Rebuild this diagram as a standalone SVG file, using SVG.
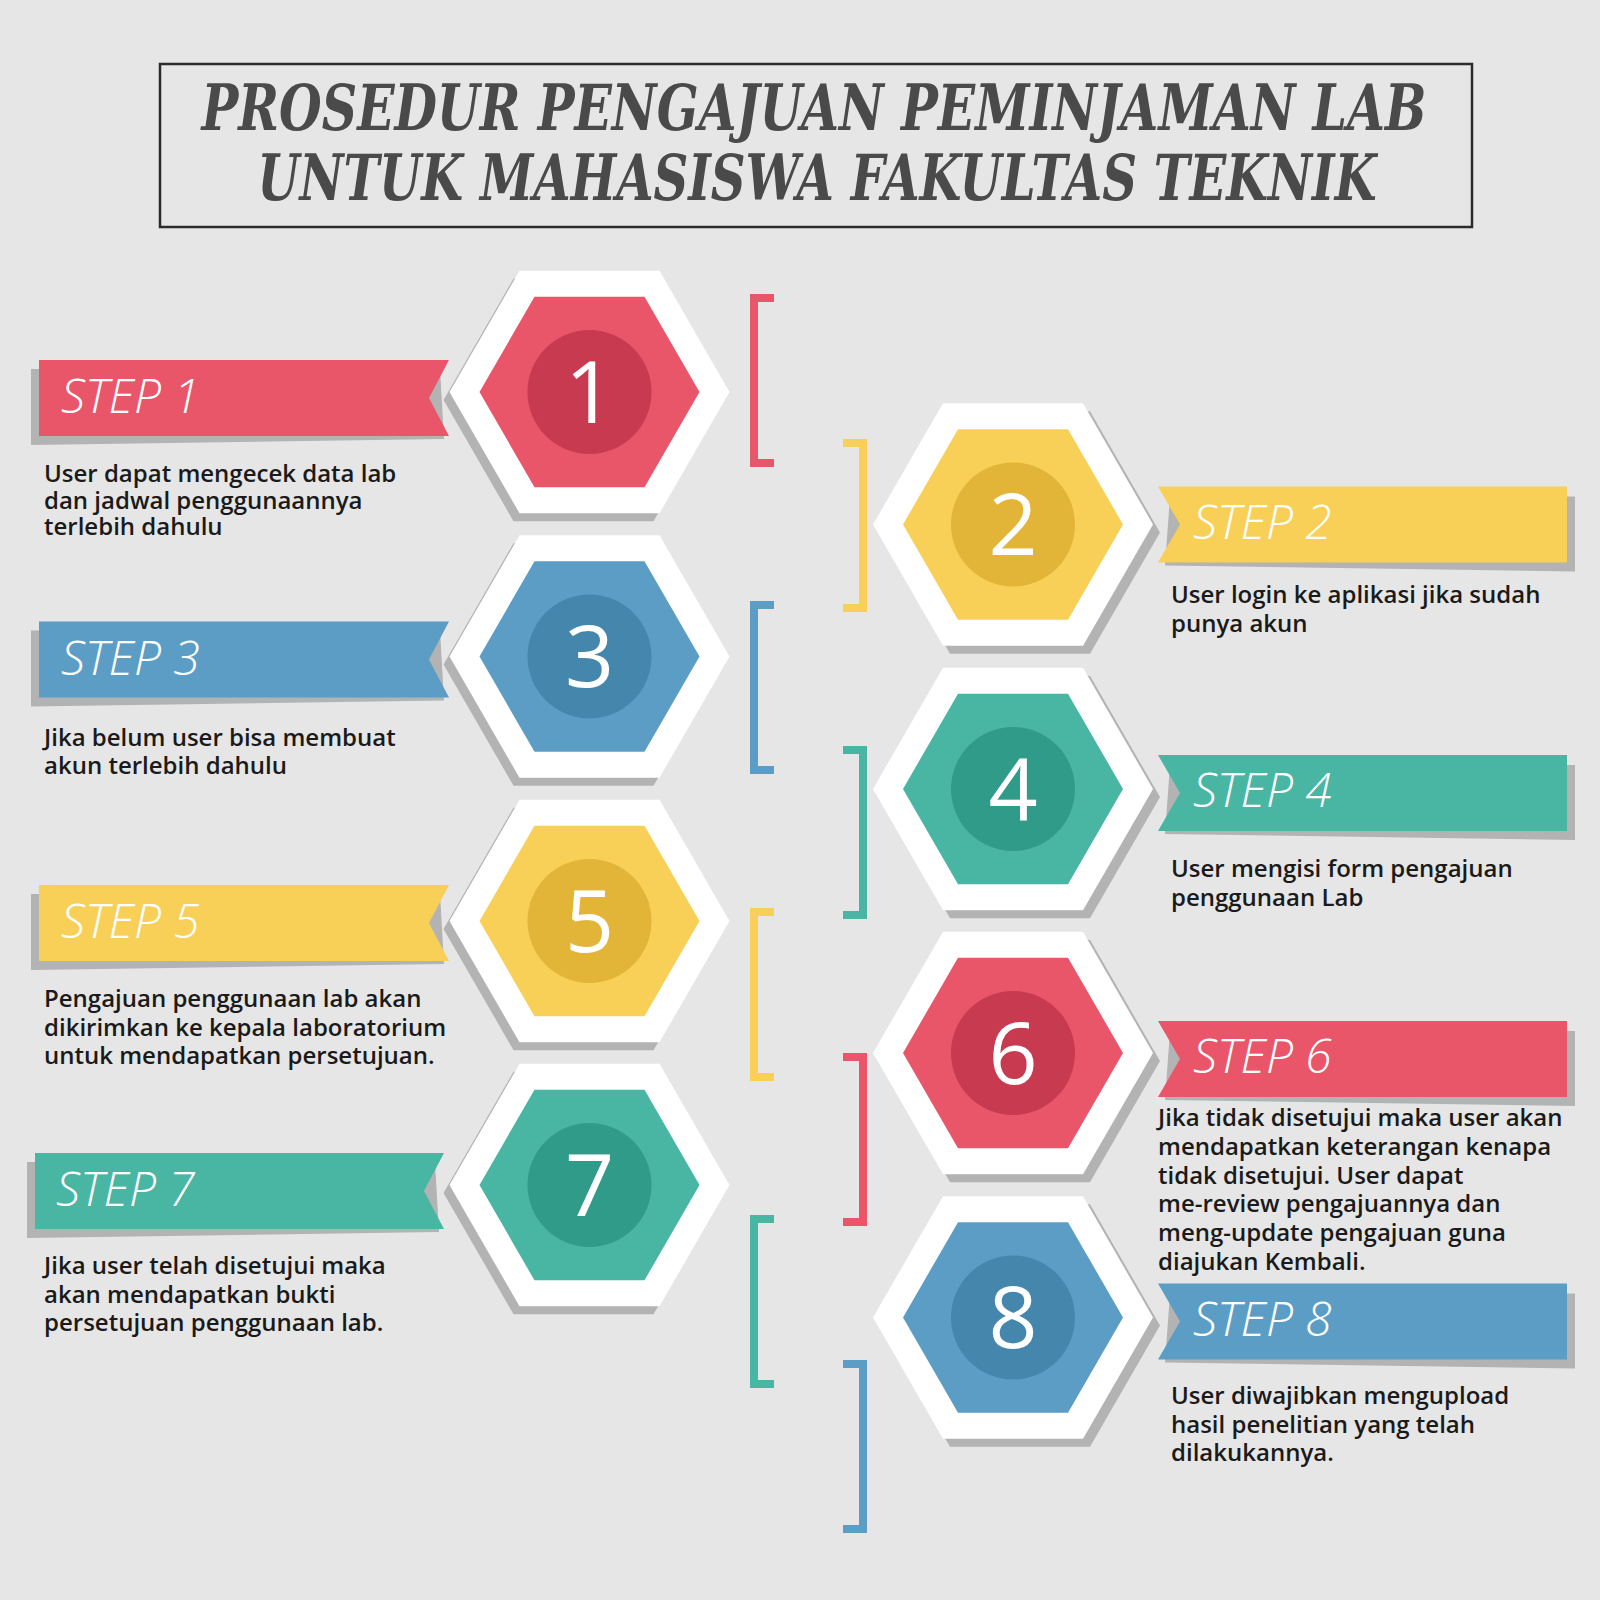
<svg xmlns="http://www.w3.org/2000/svg" xmlns:xlink="http://www.w3.org/1999/xlink" width="1600" height="1600" viewBox="0 0 1600 1600">
<style>
.bg{fill:#E6E6E6}
.title{font-family:"DejaVu Serif","Liberation Serif",serif;font-weight:bold;font-style:italic;font-size:64px;fill:#4A4A4A;text-anchor:middle}
.shadow{fill:#B3B3B3}
.white{fill:#FFFFFF}
.red{fill:#E95569}.redD{fill:#C73A4F}
.yel{fill:#F8D057}.yelD{fill:#E2B437}
.blu{fill:#5C9DC6}.bluD{fill:#4586AC}
.tea{fill:#49B5A3}.teaD{fill:#309B88}
.num{font-family:"Open Sans","Noto Sans",sans-serif;font-size:86px;fill:#FFFFFF;text-anchor:middle}
.lbl{font-family:"Open Sans","Noto Sans",sans-serif;font-weight:300;font-style:italic;font-size:48px;fill:#FFFFFF}
.desc{font-family:"Open Sans","Noto Sans",sans-serif;font-weight:600;font-size:24px;fill:#1A1A1A}
.br{fill:none;stroke-width:8;stroke-linejoin:miter}
.sr{stroke:#E95569}.sy{stroke:#F8D057}.sb{stroke:#5C9DC6}.st{stroke:#49B5A3}
</style>
<defs>
<polygon id="hexOuter" points="-140,0 -70,-121.2 70,-121.2 140,0 70,121.2 -70,121.2"/>
<polygon id="hexInner" points="-110,0 -55,-95.3 55,-95.3 110,0 55,95.3 -55,95.3"/>
</defs>
<rect class="bg" x="0" y="0" width="1600" height="1600"/>

<g id="title">
<rect x="160" y="64" width="1312" height="163" fill="none" stroke="#2B2B2B" stroke-width="2.5"/>
<text class="title" x="814" y="130" textLength="1225" lengthAdjust="spacingAndGlyphs">PROSEDUR PENGAJUAN PEMINJAMAN LAB</text>
<text class="title" x="817" y="200" textLength="1119" lengthAdjust="spacingAndGlyphs">UNTUK MAHASISWA FAKULTAS TEKNIK</text>
</g>

<g id="connectors">
<path class="br sr" d="M774,298 H754 V463 H774"/>
<path class="br sb" d="M774,605 H754 V770 H774"/>
<path class="br sy" d="M774,912 H754 V1077 H774"/>
<path class="br st" d="M774,1219 H754 V1384 H774"/>
<path class="br sy" d="M843,443 H863 V608 H843"/>
<path class="br st" d="M843,750 H863 V915 H843"/>
<path class="br sr" d="M843,1057 H863 V1222 H843"/>
<path class="br sb" d="M843,1364 H863 V1529 H843"/>
</g>

<g id="step1">
<polygon class="shadow" points="31,369 440,369 444,439 31,445"/>
<polygon class="red" points="39,360 449,360 429,398 449,436 39,436"/>
<text class="lbl" x="61" y="413">STEP 1</text>
<g transform="translate(589.5,392)">
<use xlink:href="#hexOuter" class="shadow" x="-6" y="8"/>
<use xlink:href="#hexOuter" class="white"/>
<use xlink:href="#hexInner" class="red"/>
<circle r="62" class="redD"/>
<text class="num" y="30.5">1</text>
</g>
<text class="desc" x="44" y="482">User dapat mengecek data lab</text>
<text class="desc" x="44" y="508.5">dan jadwal penggunaannya</text>
<text class="desc" x="44" y="535">terlebih dahulu</text>
</g>

<g id="step2">
<polygon class="shadow" points="1170,496.5 1575,496.5 1575,571.5 1165,565.5"/>
<polygon class="yel" points="1158,486.5 1567,486.5 1567,562.5 1158,562.5 1180,524.5"/>
<text class="lbl" x="1193" y="538.5">STEP 2</text>
<g transform="translate(1013,524.5)">
<use xlink:href="#hexOuter" class="shadow" x="7" y="8"/>
<use xlink:href="#hexOuter" class="white"/>
<use xlink:href="#hexInner" class="yel"/>
<circle r="62" class="yelD"/>
<text class="num" y="30.5">2</text>
</g>
<text class="desc" x="1171" y="603">User login ke aplikasi jika sudah</text>
<text class="desc" x="1171" y="632">punya akun</text>
</g>

<g id="step3">
<polygon class="shadow" points="31,630.5 440,630.5 444,700.5 31,706.5"/>
<polygon class="blu" points="39,621.5 449,621.5 429,659.5 449,697.5 39,697.5"/>
<text class="lbl" x="61" y="674.5">STEP 3</text>
<g transform="translate(589.5,656.5)">
<use xlink:href="#hexOuter" class="shadow" x="-6" y="8"/>
<use xlink:href="#hexOuter" class="white"/>
<use xlink:href="#hexInner" class="blu"/>
<circle r="62" class="bluD"/>
<text class="num" y="30.5">3</text>
</g>
<text class="desc" x="44" y="746">Jika belum user bisa membuat</text>
<text class="desc" x="44" y="774">akun terlebih dahulu</text>
</g>

<g id="step4">
<polygon class="shadow" points="1170,765 1575,765 1575,840 1165,834"/>
<polygon class="tea" points="1158,755 1567,755 1567,831 1158,831 1180,793"/>
<text class="lbl" x="1193" y="807">STEP 4</text>
<g transform="translate(1013,789)">
<use xlink:href="#hexOuter" class="shadow" x="7" y="8"/>
<use xlink:href="#hexOuter" class="white"/>
<use xlink:href="#hexInner" class="tea"/>
<circle r="62" class="teaD"/>
<text class="num" y="30.5">4</text>
</g>
<text class="desc" x="1171" y="877">User mengisi form pengajuan</text>
<text class="desc" x="1171" y="906">penggunaan Lab</text>
</g>

<g id="step5">
<polygon class="shadow" points="31,894 440,894 444,964 31,970"/>
<polygon class="yel" points="39,885 449,885 429,923 449,961 39,961"/>
<text class="lbl" x="61" y="938">STEP 5</text>
<g transform="translate(589.5,921)">
<use xlink:href="#hexOuter" class="shadow" x="-6" y="8"/>
<use xlink:href="#hexOuter" class="white"/>
<use xlink:href="#hexInner" class="yel"/>
<circle r="62" class="yelD"/>
<text class="num" y="30.5">5</text>
</g>
<text class="desc" x="44" y="1007">Pengajuan penggunaan lab akan</text>
<text class="desc" x="44" y="1036">dikirimkan ke kepala laboratorium</text>
<text class="desc" x="44" y="1064">untuk mendapatkan persetujuan.</text>
</g>

<g id="step6">
<polygon class="shadow" points="1170,1031 1575,1031 1575,1106 1165,1100"/>
<polygon class="red" points="1158,1021 1567,1021 1567,1097 1158,1097 1180,1059"/>
<text class="lbl" x="1193" y="1073">STEP 6</text>
<g transform="translate(1013,1053)">
<use xlink:href="#hexOuter" class="shadow" x="7" y="8"/>
<use xlink:href="#hexOuter" class="white"/>
<use xlink:href="#hexInner" class="red"/>
<circle r="62" class="redD"/>
<text class="num" y="30.5">6</text>
</g>
<text class="desc" x="1158" y="1126">Jika tidak disetujui maka user akan</text>
<text class="desc" x="1158" y="1155">mendapatkan keterangan kenapa</text>
<text class="desc" x="1158" y="1184">tidak disetujui. User dapat</text>
<text class="desc" x="1158" y="1212">me-review pengajuannya dan</text>
<text class="desc" x="1158" y="1241">meng-update pengajuan guna</text>
<text class="desc" x="1158" y="1270">diajukan Kembali.</text>
</g>

<g id="step7">
<polygon class="shadow" points="27,1162 435,1162 439,1232 27,1238"/>
<polygon class="tea" points="35,1153 444,1153 424,1191 444,1229 35,1229"/>
<text class="lbl" x="56" y="1206">STEP 7</text>
<g transform="translate(589.5,1185)">
<use xlink:href="#hexOuter" class="shadow" x="-6" y="8"/>
<use xlink:href="#hexOuter" class="white"/>
<use xlink:href="#hexInner" class="tea"/>
<circle r="62" class="teaD"/>
<text class="num" y="30.5">7</text>
</g>
<text class="desc" x="44" y="1274">Jika user telah disetujui maka</text>
<text class="desc" x="44" y="1302.5">akan mendapatkan bukti</text>
<text class="desc" x="44" y="1331">persetujuan penggunaan lab.</text>
</g>

<g id="step8">
<polygon class="shadow" points="1170,1293.5 1575,1293.5 1575,1368.5 1165,1362.5"/>
<polygon class="blu" points="1158,1283.5 1567,1283.5 1567,1359.5 1158,1359.5 1180,1321.5"/>
<text class="lbl" x="1193" y="1335.5">STEP 8</text>
<g transform="translate(1013,1317.5)">
<use xlink:href="#hexOuter" class="shadow" x="7" y="8"/>
<use xlink:href="#hexOuter" class="white"/>
<use xlink:href="#hexInner" class="blu"/>
<circle r="62" class="bluD"/>
<text class="num" y="30.5">8</text>
</g>
<text class="desc" x="1171" y="1404">User diwajibkan mengupload</text>
<text class="desc" x="1171" y="1432.5">hasil penelitian yang telah</text>
<text class="desc" x="1171" y="1461">dilakukannya.</text>
</g>
</svg>
